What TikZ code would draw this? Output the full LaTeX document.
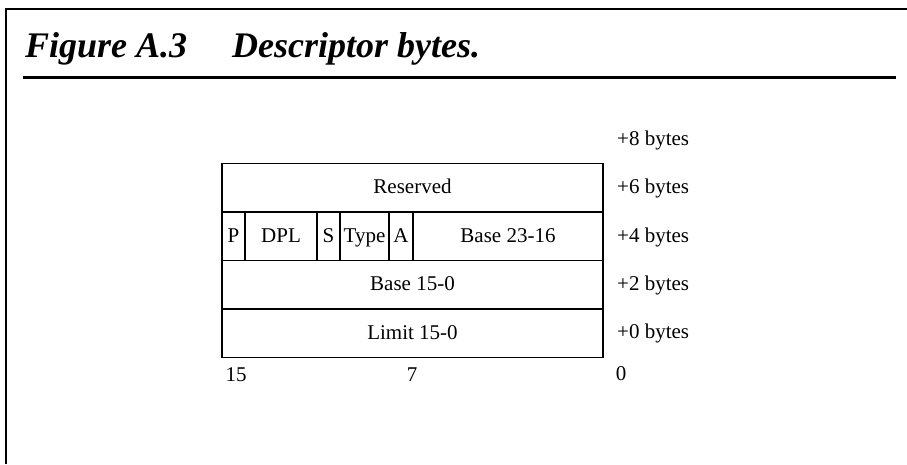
\documentclass[tikz,border=0pt]{standalone}
\usepackage{fontspec}
\setmainfont{Liberation Serif}
\usepackage{tikz}
\usetikzlibrary{positioning}

\newcommand{\descfont}{\fontsize{21}{25}\selectfont}
\newcommand{\figtitlefont}{\fontsize{36}{40}\selectfont\bfseries\itshape}

\begin{document}
\begin{tikzpicture}[
        x=1pt, y=-1pt,
        node distance=0pt,
        % Styles
        field/.style={
            rectangle, draw=black, line width=1.2pt,
            outer sep=0pt, inner sep=0pt,
            minimum height=48.5pt,
            text height=15pt, text depth=3pt,
            align=center, font=\descfont
        },
        offset/.style={
            anchor=base west, inner sep=0pt, font=\descfont
        },
        bitno/.style={
            anchor=base, inner sep=0pt, font=\descfont
        },
        frameline/.style={
            draw=black, line width=2.5pt
        }
    ]
        \useasboundingbox (0,0) rectangle (907,464);

        % Frame and title
        \draw[frameline] (6,464) -- (6,9) -- (907,9);
        \node[anchor=base west, inner sep=0pt, font=\figtitlefont] (title) at (25,57) {Figure A.3\hspace{45pt}Descriptor bytes.};
        \draw[line width=3pt] (23,77) -- (896,77);

        % Rows
        \node[field, minimum width=381pt] (reserved) at (412.5,187.75) {Reserved};
        \node[field, minimum width=23pt, anchor=north west] (p) at (reserved.south west) {P};
        \node[field, minimum width=72pt, right=of p] (dpl) {DPL};
        \node[field, minimum width=23pt, right=of dpl] (s) {S};
        \node[field, minimum width=49pt, right=of s] (type) {Type};
        \node[field, minimum width=24pt, right=of type] (a) {A};
        \node[field, minimum width=190pt, right=of a] (base_hi) {Base 23-16};
        \node[field, minimum width=381pt, anchor=north west] (base_lo) at (p.south west) {Base 15-0};
        \node[field, minimum width=381pt, below=of base_lo] (limit) {Limit 15-0};

        % Byte offsets
        \foreach \n/\y in {8/145, 6/193, 4/242, 2/290, 0/338}
            \node[offset] (off\n) at (617,\y) {+\n{} bytes};

        % Bit numbers
        \node[bitno] (bit15) at (236,381) {15};
        \node[bitno] (bit7) at (412,381) {7};
        \node[bitno] (bit0) at (621,380) {0};

    \end{tikzpicture}
\end{document}
